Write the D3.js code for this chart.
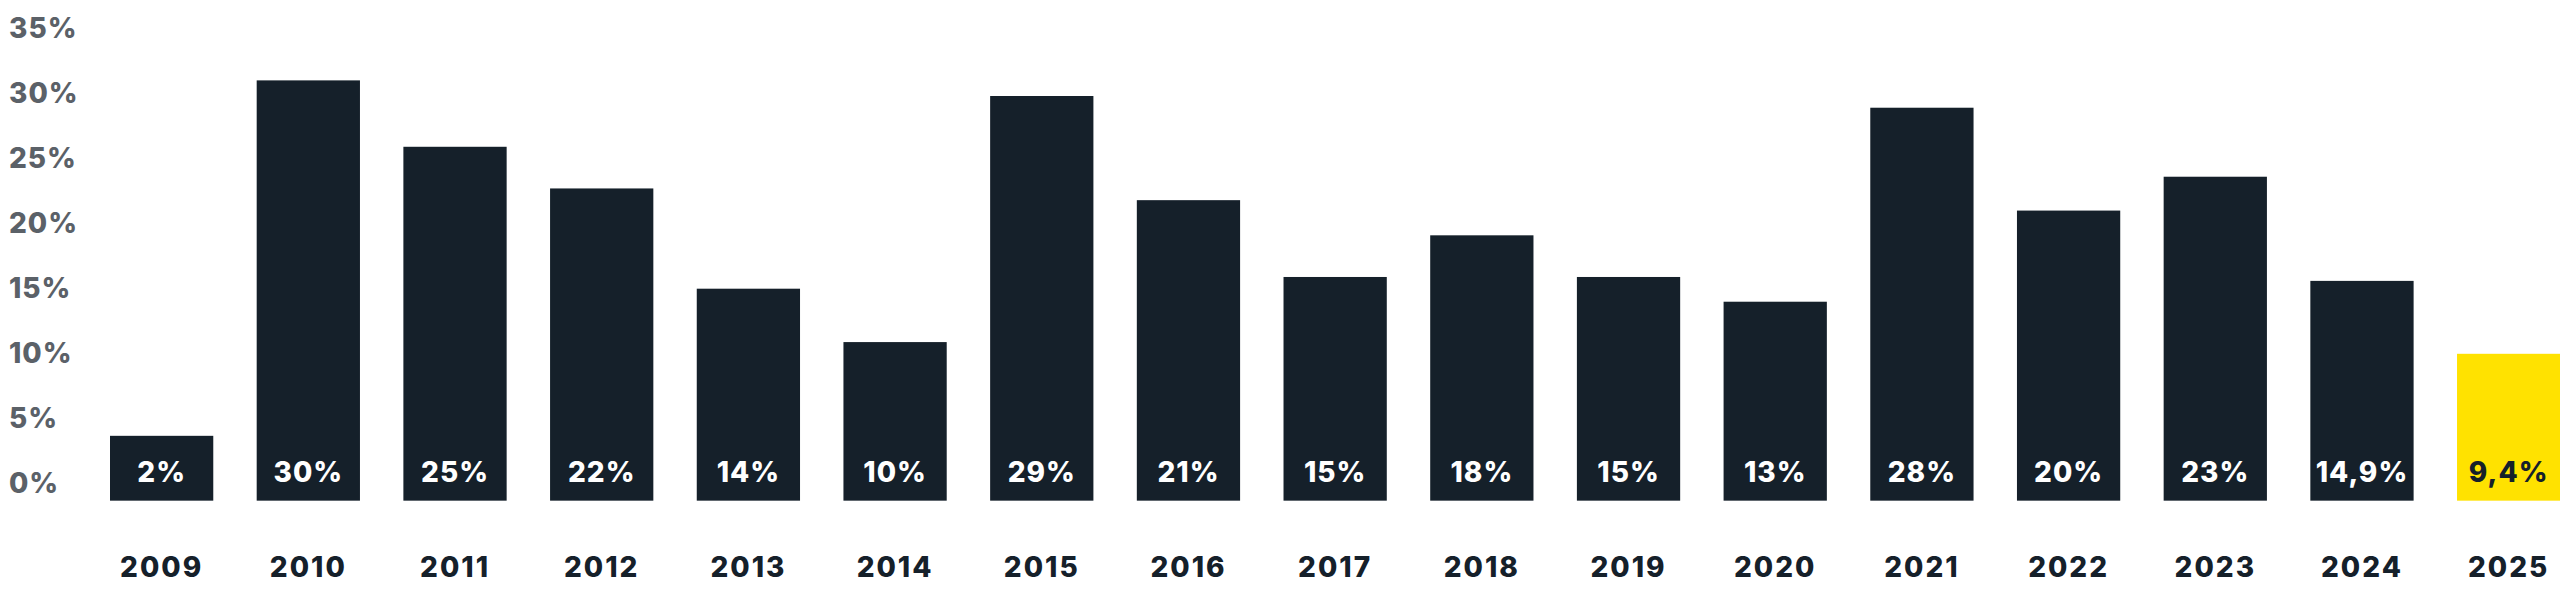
<!DOCTYPE html>
<html>
<head>
<meta charset="utf-8">
<script src="https://cdn.jsdelivr.net/npm/d3@7"></script>
<style>
  html, body { margin: 0; padding: 0; background: #ffffff; }
  svg { display: block; }
  text { font-family: Inter, Lato, "Noto Sans", sans-serif; font-weight: 800; }
</style>
</head>
<body>
<svg id="chart" width="2560" height="600"></svg>
<script>
// ---- data ----
const years = ["2009","2010","2011","2012","2013","2014","2015","2016","2017","2018","2019","2020","2021","2022","2023","2024","2025"];
// bar heights as drawn (read against the axis)
const barValues = [3.7, 31.0, 25.9, 22.7, 15.0, 10.9, 29.8, 21.8, 15.9, 19.1, 15.9, 14.0, 28.9, 21.0, 23.6, 15.6, 10.0];
// printed value labels
const valueLabels = ["2%","30%","25%","22%","14%","10%","29%","21%","15%","18%","15%","13%","28%","20%","23%","14,9%","9,4%"];
const yTicks = [0, 5, 10, 15, 20, 25, 30, 35];
const highlightYear = "2025";
const barBase = -1.28;

// ---- styles ----
const darkColor = "#15202a";
const yellowColor = "#ffe200";
const axisColor = "#5b6168";

const svg = d3.select("#chart");

const x = d3.scaleBand()
  .domain(years)
  .range([110, 2560.3])
  .paddingInner(0.296)
  .paddingOuter(0);

const y = d3.scaleLinear()
  .domain([0, 35])
  .range([484, 28.3]);

// y axis
const yAxis = d3.axisLeft(y)
  .tickValues(yTicks)
  .tickSize(0)
  .tickFormat(d => d + "%");

const gy = svg.append("g")
  .attr("transform", "translate(9,0)")
  .call(yAxis);
gy.select(".domain").remove();
gy.selectAll("text")
  .attr("x", 0)
  .attr("text-anchor", "start")
  .attr("fill", axisColor)
  .style("font-size", "28px")
  .style("letter-spacing", "1px");

// bars
svg.append("g").selectAll("rect")
  .data(years)
  .join("rect")
  .attr("x", d => x(d))
  .attr("width", x.bandwidth())
  .attr("y", (d, i) => y(barValues[i]))
  .attr("height", (d, i) => y(barBase) - y(barValues[i]))
  .attr("fill", d => d === highlightYear ? yellowColor : darkColor);

// value labels
svg.append("g").selectAll("text")
  .data(years)
  .join("text")
  .attr("x", d => x(d) + x.bandwidth() / 2)
  .attr("y", y(barBase) - 18.7)
  .attr("text-anchor", "middle")
  .attr("fill", d => d === highlightYear ? darkColor : "#ffffff")
  .style("font-size", "28px")
  .style("letter-spacing", "1px")
  .text((d, i) => valueLabels[i]);

// x axis (years)
const xAxis = d3.axisBottom(x).tickSize(0).tickPadding(56.7);
const gx = svg.append("g")
  .attr("transform", `translate(0,${y(barBase)})`)
  .call(xAxis);
gx.select(".domain").remove();
gx.selectAll("text")
  .attr("fill", darkColor)
  .style("font-size", "28px")
  .style("letter-spacing", "2px");
</script>
</body>
</html>
